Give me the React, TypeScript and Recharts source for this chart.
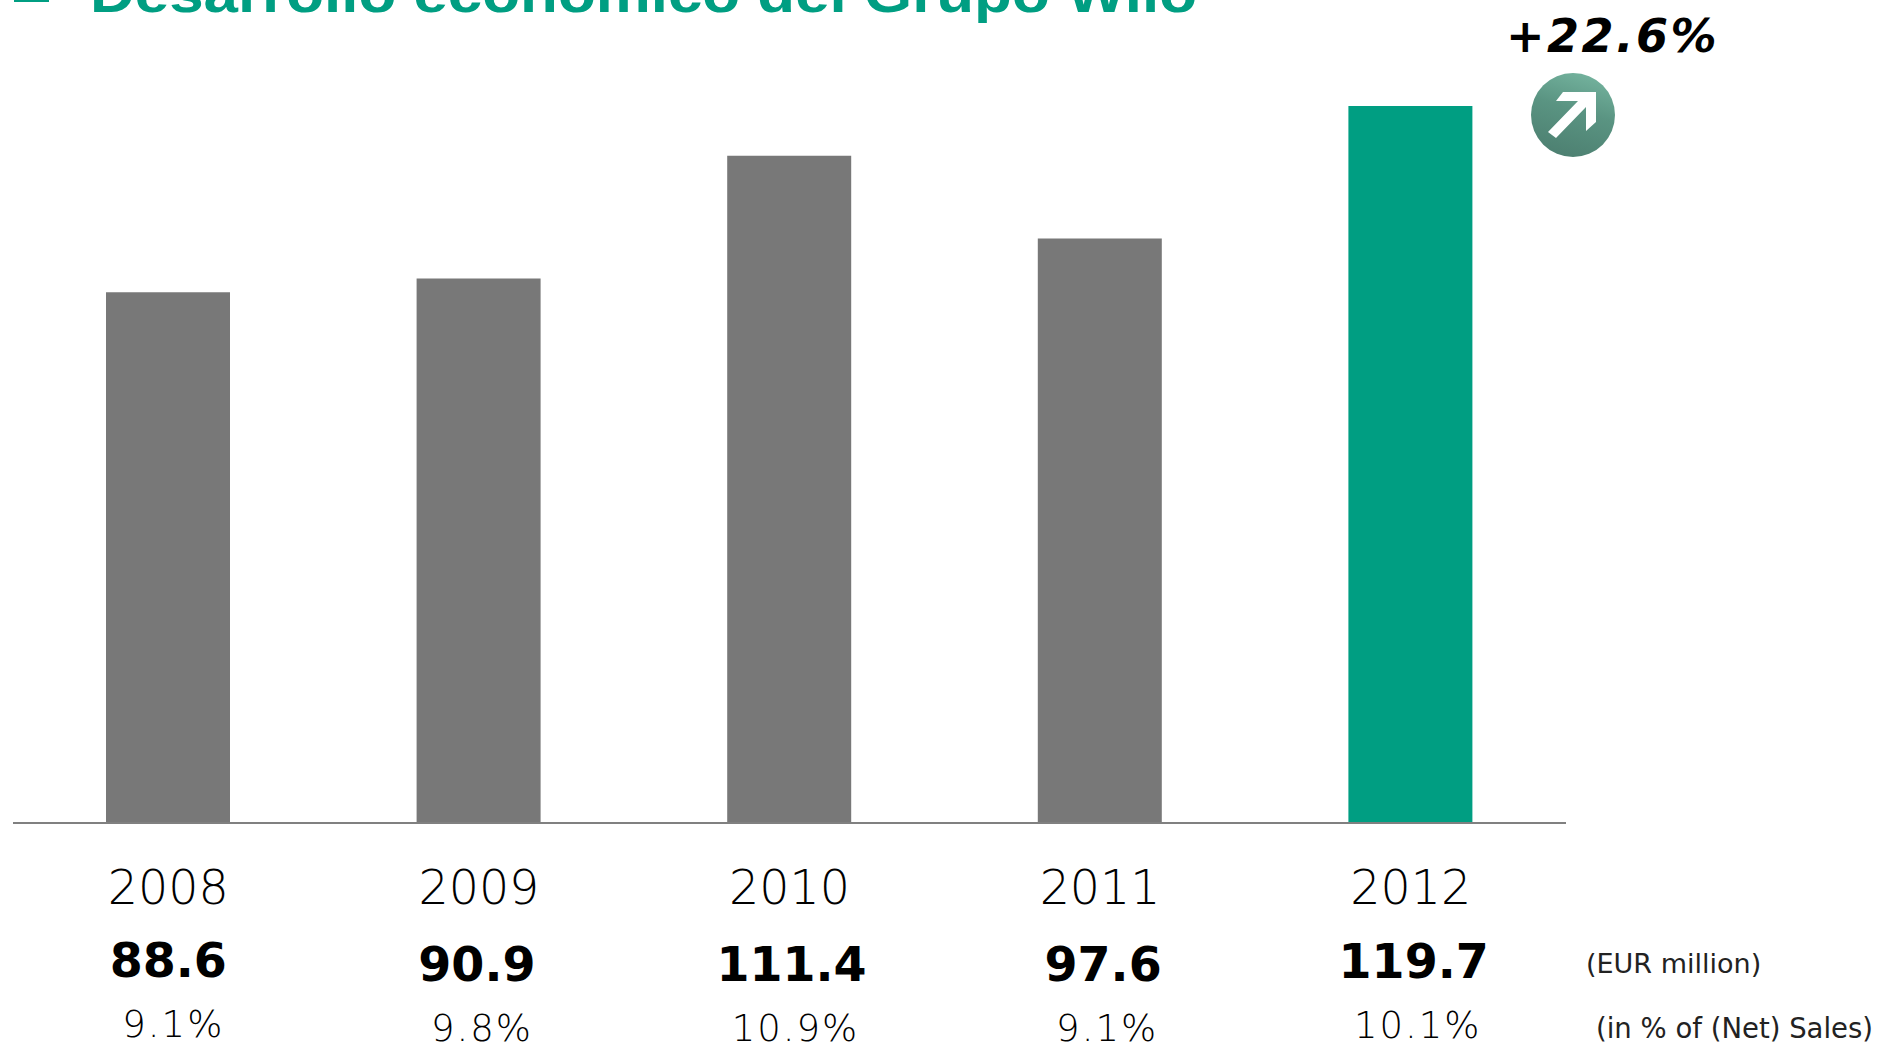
import React from 'react';
import { BarChart, Bar, XAxis, YAxis, Cell } from 'recharts';

const years = ['2008', '2009', '2010', '2011', '2012'];
const ebit = [88.6, 90.9, 111.4, 97.6, 119.7];
const margin = ['9.1%', '9.8%', '10.9%', '9.1%', '10.1%'];

const data = years.map((year, i) => ({ year, ebit: ebit[i], margin: margin[i] }));

const GREEN = '#009e82';
const GREY = '#787878';
const FONT = '"DejaVu Sans", sans-serif';

// the rows under the bars are a bit uneven in the original slide
const valueNudge = [
  { dx: 0, y: 977 },
  { dx: -2, y: 981 },
  { dx: 2, y: 981 },
  { dx: 3, y: 981 },
  { dx: 3, y: 978 },
];
const marginNudge = [
  { dx: 5, y: 1037 },
  { dx: 3, y: 1041 },
  { dx: 6, y: 1041 },
  { dx: 7, y: 1041 },
  { dx: 7, y: 1038 },
];

const YearTick = ({ x, payload, index }: any) => {
  const i = payload.index ?? index;
  return (
    <g fontFamily={FONT} fill="#000" textAnchor="middle">
      <text x={x} y={904} fontSize={47.5} fontWeight={200}>
        {payload.value}
      </text>
      <text x={x + valueNudge[i].dx} y={valueNudge[i].y} fontSize={47.5} fontWeight={700}>
        {ebit[i]}
      </text>
      <text x={x + marginNudge[i].dx} y={marginNudge[i].y} fontSize={37} fontWeight={200} letterSpacing={2}>
        {margin[i]}
      </text>
    </g>
  );
};

const App = () => (
  <div style={{ position: 'absolute', left: 0, top: 0, width: 1879, height: 1044, overflow: 'hidden', background: '#fff' }}>
    <BarChart
      width={1879}
      height={1044}
      data={data}
      margin={{ top: 106, right: 313, bottom: 0, left: 13 }}
    >
      <XAxis
        dataKey="year"
        height={221}
        interval={0}
        axisLine={{ stroke: '#808080', strokeWidth: 2 }}
        tickLine={false}
        tick={<YearTick />}
      />
      <YAxis hide domain={[0, 119.7]} />
      <Bar dataKey="ebit" barSize={124} isAnimationActive={false}>
        {data.map((d, i) => (
          <Cell key={d.year} fill={i === data.length - 1 ? GREEN : GREY} />
        ))}
      </Bar>
    </BarChart>

    <svg width={1879} height={1044} style={{ position: 'absolute', left: 0, top: 0 }}>
      <defs>
        <linearGradient id="badge" x1="0.7" y1="0" x2="0.4" y2="1">
          <stop offset="0%" stopColor="#74b39e" />
          <stop offset="45%" stopColor="#5a9482" />
          <stop offset="100%" stopColor="#4d8071" />
        </linearGradient>
      </defs>
      <rect x={14} y={0} width={35} height={2} fill={GREEN} />
      <text
        x={90}
        y={12}
        textLength={1107}
        lengthAdjust="spacingAndGlyphs"
        fontFamily='"Liberation Sans", Arial, sans-serif'
        fontWeight={700}
        fontSize={54}
        fill={GREEN}
      >
        Desarrollo económico del Grupo Wilo
      </text>
      <text x={1506} y={52} fontFamily={FONT} fontStyle="italic" fontWeight={700} fontSize={46} letterSpacing={2.5} fill="#000">
        +22.6%
      </text>
      <circle cx={1573} cy={115} r={42} fill="url(#badge)" />
      <path d="M1563 92 L1596 92 L1596 122 L1586 131 L1586 107 L1556 138 L1548 132 L1578 101 L1556 101 Z" fill="#fff" />
      <text x={1586} y={973} fontFamily={FONT} fontSize={27} fill="#222">(EUR million)</text>
      <text x={1596} y={1038} fontFamily={FONT} fontSize={27.5} fill="#222">(in % of (Net) Sales)</text>
    </svg>
  </div>
);

export default App;
